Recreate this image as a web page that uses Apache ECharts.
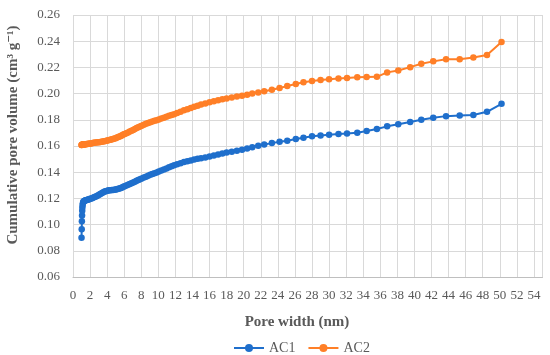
<!DOCTYPE html>
<html><head><meta charset="utf-8">
<script src="https://cdn.jsdelivr.net/npm/echarts@6/dist/echarts.min.js"></script>
<style>html,body{margin:0;padding:0;background:#fff}#c{width:550px;height:355px}</style>
</head><body><div id="c"></div>
<script>
const poreWidth = [1.00,1.02,1.04,1.06,1.08,1.10,1.13,1.16,1.20,1.25,1.30,1.36,1.43,1.50,1.60,1.70,1.80,1.90,2.00,2.15,2.30,2.45,2.60,2.75,2.90,3.05,3.20,3.35,3.50,3.65,3.80,3.95,4.10,4.25,4.40,4.55,4.70,4.85,5.00,5.15,5.30,5.45,5.60,5.75,5.90,6.05,6.25,6.45,6.65,6.85,7.05,7.25,7.45,7.65,7.85,8.05,8.30,8.55,8.80,9.05,9.30,9.55,9.80,10.05,10.35,10.65,10.95,11.25,11.55,11.85,12.2,12.6,13.0,13.4,13.8,14.2,14.6,15.0,15.5,16.0,16.5,17.0,17.5,18.0,18.6,19.2,19.8,20.4,21.0,21.7,22.4,23.3,24.2,25.1,26.1,27.0,28.0,29.0,30.0,31.1,32.1,33.3,34.4,35.6,36.8,38.1,39.5,40.8,42.2,43.7,45.3,46.9,48.5,50.2];
const ac1 = [0.0900,0.0965,0.1025,0.1070,0.1105,0.1130,0.1150,0.1163,0.1172,0.1177,0.1180,0.1182,0.1184,0.1186,0.1188,0.1190,0.1192,0.1194,0.1197,0.1200,0.1204,0.1208,0.1212,0.1217,0.1222,0.1228,0.1234,0.1240,0.1245,0.1250,0.1254,0.1257,0.1260,0.1262,0.1263,0.1264,0.1265,0.1266,0.1268,0.1270,0.1273,0.1276,0.1280,0.1284,0.1288,0.1292,0.1298,0.1304,0.1310,0.1316,0.1322,0.1328,0.1334,0.1340,0.1346,0.1352,0.1359,0.1366,0.1373,0.1380,0.1386,0.1392,0.1398,0.1405,0.1413,0.1421,0.1429,0.1437,0.1445,0.1453,0.1461,0.1469,0.1477,0.1484,0.1490,0.1496,0.1502,0.1507,0.1513,0.1519,0.1527,0.1535,0.1543,0.1550,0.1557,0.1564,0.1572,0.1581,0.1591,0.1602,0.1612,0.1622,0.1632,0.1640,0.1653,0.1663,0.1674,0.1681,0.1686,0.1691,0.1696,0.1701,0.1714,0.1730,0.1750,0.1766,0.1783,0.1800,0.1816,0.1828,0.1833,0.1836,0.1861,0.1922];
const ac2 = [0.1608,0.1608,0.1609,0.1609,0.1610,0.1610,0.1610,0.1611,0.1611,0.1612,0.1612,0.1613,0.1613,0.1614,0.1615,0.1616,0.1617,0.1618,0.1619,0.1620,0.1622,0.1624,0.1626,0.1627,0.1628,0.1629,0.1631,0.1633,0.1635,0.1637,0.1639,0.1641,0.1643,0.1645,0.1648,0.1651,0.1654,0.1657,0.1660,0.1664,0.1668,0.1672,0.1677,0.1682,0.1687,0.1692,0.1698,0.1704,0.1710,0.1716,0.1723,0.1730,0.1737,0.1743,0.1749,0.1755,0.1762,0.1769,0.1775,0.1781,0.1787,0.1792,0.1797,0.1802,0.1809,0.1816,0.1823,0.1830,0.1837,0.1843,0.1852,0.1862,0.1872,0.1881,0.1890,0.1899,0.1908,0.1916,0.1925,0.1934,0.1942,0.1950,0.1957,0.1963,0.1970,0.1977,0.1984,0.1992,0.2000,0.2009,0.2018,0.2029,0.2042,0.2058,0.2073,0.2086,0.2096,0.2103,0.2110,0.2116,0.2120,0.2124,0.2126,0.2128,0.2162,0.2177,0.2202,0.2228,0.2246,0.2263,0.2263,0.2276,0.2294,0.2393];
const seriesNames = ['AC1','AC2'];
const xTitle = 'Pore width (nm)';
const yTitle = 'Cumulative pore volume (cm³ g⁻¹)';

const FONT = '"Liberation Serif", "DejaVu Serif", serif';
const GRAY = '#595959';
const chart = echarts.init(document.getElementById('c'), null, {renderer:'canvas'});
const toPairs = arr => poreWidth.map((x,i)=>[x,arr[i]]);
const colors = ['#1f6fcc','#ff7f27'];
chart.setOption({
  animation:false,
  grid:{left:73,right:7.5,top:15,bottom:78,containLabel:false},
  xAxis:{type:'value',min:0,max:55,interval:2,
    axisLine:{show:true,lineStyle:{color:'#bfbfbf'}},
    axisTick:{show:false},
    splitLine:{show:true,lineStyle:{color:'#d9d9d9',width:1}},
    axisLabel:{color:GRAY,fontFamily:FONT,fontSize:13,margin:12,showMaxLabel:false,
      formatter:v=> v>54?'':String(v)}},
  yAxis:{type:'value',min:0.06,max:0.26,interval:0.02,
    axisLine:{show:false},axisTick:{show:false},
    splitLine:{show:true,lineStyle:{color:'#d9d9d9',width:1}},
    axisLabel:{color:GRAY,fontFamily:FONT,fontSize:13,margin:13,formatter:v=>v.toFixed(2)}},
  legend:{top:336,left:228,itemWidth:30,itemHeight:10,itemGap:12,
    textStyle:{color:GRAY,fontFamily:FONT,fontSize:14},data:seriesNames},
  graphic:[
    {type:'text',x:297,y:322,style:{text:xTitle,fill:GRAY,font:'bold 15px '+FONT,textAlign:'center',textVerticalAlign:'middle'}},
    {type:'text',x:13,y:135,rotation:Math.PI/2,style:{text:yTitle,fill:GRAY,font:'bold 15px '+FONT,textAlign:'center',textVerticalAlign:'middle'}}
  ],
  series:seriesNames.map((n,k)=>({
    name:n,type:'line',data:toPairs(k===0?ac1:ac2),
    symbol:'circle',symbolSize:6.5,showSymbol:true,
    lineStyle:{color:colors[k],width:2},itemStyle:{color:colors[k]}
  }))
});
</script></body></html>
